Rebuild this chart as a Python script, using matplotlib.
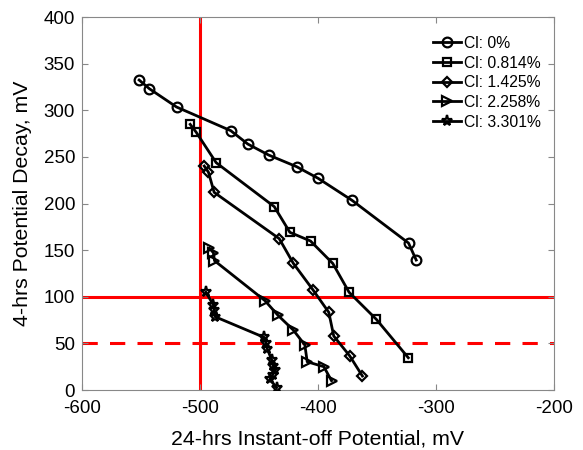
import matplotlib.pyplot as plt

plt.rcParams['font.family'] = ['Liberation Sans', 'DejaVu Sans']
plt.rcParams['axes.unicode_minus'] = False

# Cl: 0%
cl0_x = [-551.6, -542.9, -519.9, -473.9, -459.5, -441.8, -418.1, -399.8, -371.1, -323.2, -316.7]
cl0_y = [332.4, 323.1, 303.5, 278.1, 263.8, 252.0, 239.5, 227.0, 203.4, 157.6, 139.4]

# Cl: 0.814%
cl1_x = [-508.3, -503.2, -486.3, -437.0, -423.8, -406.3, -387.4, -373.6, -350.5, -323.4]
cl1_y = [284.9, 276.4, 243.8, 196.6, 169.1, 159.8, 135.7, 104.8, 75.8, 34.6]

# Cl: 1.425%
cl2_x = [-496.4, -492.8, -488.0, -432.8, -420.9, -404.1, -390.8, -386.6, -373.0, -362.3]
cl2_y = [240.2, 233.5, 212.0, 162.3, 135.9, 107.2, 83.3, 57.9, 36.5, 15.0]

# Cl: 2.258%
cl3_x = [-492.0, -488.6, -487.7, -444.9, -434.1, -420.9, -411.1, -409.1, -395.0, -388.5]
cl3_y = [152.0, 147.2, 138.7, 95.8, 80.4, 64.3, 48.3, 30.3, 25.0, 10.0]

# Cl: 3.301%
cl4_x = [-495.0, -488.6, -488.0, -487.2, -445.7, -444.0, -442.9, -439.2, -437.9, -436.4, -438.4, -440.7, -435.0]
cl4_y = [104.8, 91.2, 85.8, 78.6, 56.5, 50.1, 44.0, 32.2, 25.7, 21.4, 16.1, 11.5, 2.5]

labels = ['Cl: 0%', 'Cl: 0.814%', 'Cl: 1.425%', 'Cl: 2.258%', 'Cl: 3.301%']
markers = ['o', 's', 'D', '>', '*']
series = [(cl0_x, cl0_y), (cl1_x, cl1_y), (cl2_x, cl2_y), (cl3_x, cl3_y), (cl4_x, cl4_y)]
msizes = [7, 5.5, 5, 6.5, 8]

fig = plt.figure(figsize=(5.83, 4.5), dpi=100)
ax = fig.add_axes([0.1407, 0.1333, 0.8093, 0.8289])

# guide lines
ax.axvline(-500, color='red', lw=2.2, zorder=1)
ax.axhline(100, color='red', lw=2.2, zorder=1)
ax.axhline(50, color='red', lw=2.2, ls=(0, (5, 4)), zorder=1)

for (x, y), lab, m, ms in zip(series, labels, markers, msizes):
    ax.plot(x, y, color='black', lw=2, marker=m, ms=ms, mfc='none',
            mec='black', mew=1.6, label=lab, zorder=3)

ax.set_xlim(-600, -200)
ax.set_ylim(0, 400)
ax.set_xticks([-600, -500, -400, -300, -200])
ax.set_yticks(range(0, 401, 50))
ax.tick_params(direction='in', top=True, right=True, labelsize=13.5, length=4,
               color='#888888')
ax.tick_params(axis='x', pad=7)
ax.tick_params(axis='y', pad=5)
for s in ax.spines.values():
    s.set_color('#888888')
    s.set_linewidth(0.8)

ax.set_xlabel('24-hrs Instant-off Potential, mV', fontsize=15.3, labelpad=9)
ax.set_ylabel('4-hrs Potential Decay, mV', fontsize=15.3, labelpad=8)

ax.legend(loc='upper right', bbox_to_anchor=(1.013, 1.0), frameon=False,
          fontsize=11.3, handlelength=1.8, handletextpad=0.2,
          labelspacing=0.3, borderaxespad=0.8)

fig.savefig('out.png', dpi=100)
